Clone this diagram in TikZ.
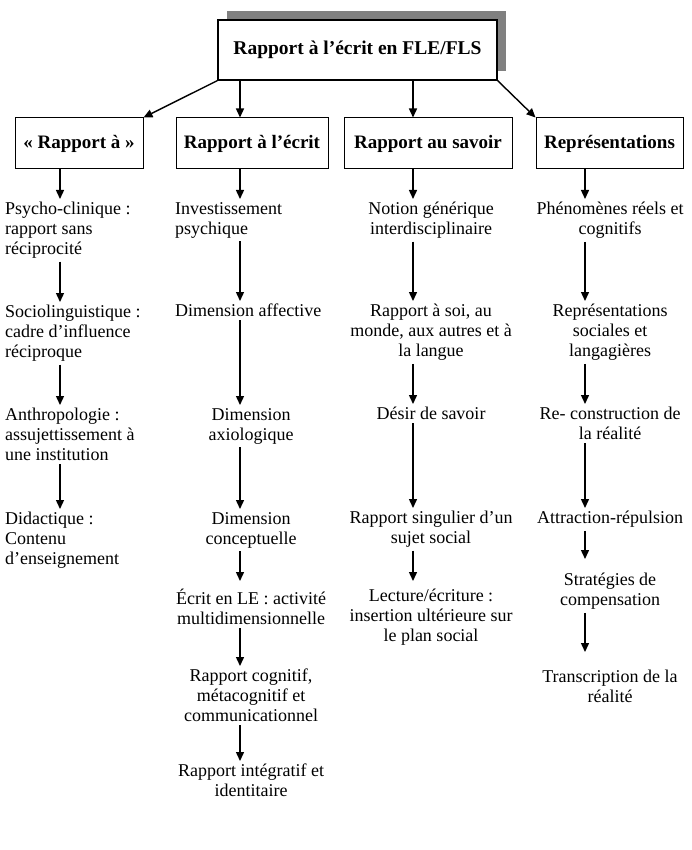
\documentclass[tikz,border=0pt]{standalone}
\usepackage{fontspec}
\setmainfont{Liberation Serif}
\usetikzlibrary{arrows.meta,shadows}

\tikzset{
  titre/.style={draw, line width=1.2pt, fill=white, minimum width=279pt, minimum height=60pt,
    font=\fontsize{19.5}{22}\selectfont\bfseries,
    drop shadow={shadow xshift=9pt, shadow yshift=9pt, fill=black!50, opacity=1}},
  entete/.style={draw, line width=1pt, minimum height=51pt, inner sep=0pt,
    font=\fontsize{19}{22}\selectfont\bfseries},
  texte/.style={inner sep=3pt, anchor=north, font=\fontsize{18}{20}\selectfont},
  fleche/.style={line width=1.4pt, -{Triangle[length=9pt,width=8pt]}},
}

\begin{document}
\begin{tikzpicture}[x=1pt, y=-1pt]
  \useasboundingbox (0,0) rectangle (692,850);

  % titre et en-tetes
  \node[titre] (titre) at (357.5,50) {Rapport à l’écrit en FLE/FLS};

  \node[entete, minimum width=128pt] (rapa) at (79,143.5) {« Rapport à »};
  \node[entete, minimum width=152pt] (rape) at (252,143.5) {Rapport à l’écrit};
  \node[entete, minimum width=168pt] (raps) at (428,143.5) {Rapport au savoir};
  \node[entete, minimum width=147pt] (repr) at (609.5,143.5) {Représentations};

  % axes des colonnes
  \coordinate (c1) at (60,0);
  \coordinate (c2) at (240,0);
  \coordinate (c3) at (413,0);
  \coordinate (c4) at (585,0);

  % colonne 1
  \node[texte, anchor=north west, align=left] (psy) at (2,199) {Psycho-clinique :\\rapport sans\\réciprocité};
  \node[texte, anchor=north west, align=left] (soc) at (2,302) {Sociolinguistique :\\cadre d’influence\\réciproque};
  \node[texte, anchor=north west, align=left] (ant) at (2,405) {Anthropologie :\\assujettissement à\\une institution};
  \node[texte, anchor=north west, align=left] (did) at (2,509) {Didactique :\\Contenu\\d’enseignement};

  % colonne 2
  \node[texte, anchor=north west, align=left] (inv) at (172,199) {Investissement\\psychique};
  \node[texte, anchor=north west, align=left] (aff) at (172,301) {Dimension affective};
  \node[texte, align=center] (axi) at (251,405) {Dimension\\axiologique};
  \node[texte, align=center] (con) at (251,509) {Dimension\\conceptuelle};
  \node[texte, align=center] (ecr) at (251,586) {Écrit en LE : activité\\multidimensionnelle};
  \node[texte, align=center] (cog) at (251,666) {Rapport cognitif,\\métacognitif et\\communicationnel};
  \node[texte, align=center] (int) at (251,761) {Rapport intégratif et\\identitaire};

  % colonne 3
  \node[texte, align=center] (not) at (431,199) {Notion générique\\interdisciplinaire};
  \node[texte, align=center] (soi) at (431,301) {Rapport à soi, au\\monde, aux autres et à\\la langue};
  \node[texte, align=center] (des) at (431,404) {Désir de savoir};
  \node[texte, align=center] (sin) at (431,508) {Rapport singulier d’un\\sujet social};
  \node[texte, align=center] (lec) at (431,586) {Lecture/écriture :\\insertion ultérieure sur\\le plan social};

  % colonne 4
  \node[texte, align=center] (phe) at (610,199) {Phénomènes réels et\\cognitifs};
  \node[texte, align=center] (rso) at (610,301) {Représentations\\sociales et\\langagières};
  \node[texte, align=center] (rec) at (610,404) {Re- construction de\\la réalité};
  \node[texte, align=center] (att) at (610,508) {Attraction-répulsion};
  \node[texte, align=center] (str) at (610,570) {Stratégies de\\compensation};
  \node[texte, align=center] (tra) at (610,667) {Transcription de la\\réalité};

  % fleches du titre
  \draw[fleche] (titre.south west) -- (rapa.north east);
  \draw[fleche] (titre.south -| c2) -- (rape.north -| c2);
  \draw[fleche] (titre.south -| c3) -- (raps.north -| c3);
  \draw[fleche] (titre.south east) -- (repr.north west);

  % fleches des colonnes
  \draw[fleche] (rapa.south -| c1) -- (psy.north -| c1);
  \draw[fleche] (psy.south -| c1) -- (soc.north -| c1);
  \draw[fleche] (soc.south -| c1) -- (ant.north -| c1);
  \draw[fleche] (ant.south -| c1) -- (did.north -| c1);

  \draw[fleche] (rape.south -| c2) -- (inv.north -| c2);
  \draw[fleche] (inv.south -| c2) -- (aff.north -| c2);
  \draw[fleche] (aff.south -| c2) -- (axi.north -| c2);
  \draw[fleche] (axi.south -| c2) -- (con.north -| c2);
  \draw[fleche, shorten >=5pt] (con.south -| c2) -- (ecr.north -| c2);
  \draw[fleche] (ecr.south -| c2) -- (cog.north -| c2);
  \draw[fleche] (cog.south -| c2) -- (int.north -| c2);

  \draw[fleche] (raps.south -| c3) -- (not.north -| c3);
  \draw[fleche] (not.south -| c3) -- (soi.north -| c3);
  \draw[fleche] (soi.south -| c3) -- (des.north -| c3);
  \draw[fleche] (des.south -| c3) -- (sin.north -| c3);
  \draw[fleche, shorten >=5pt] (sin.south -| c3) -- (lec.north -| c3);

  \draw[fleche] (repr.south -| c4) -- (phe.north -| c4);
  \draw[fleche] (phe.south -| c4) -- (rso.north -| c4);
  \draw[fleche] (rso.south -| c4) -- (rec.north -| c4);
  \draw[fleche] (rec.south -| c4) -- (att.north -| c4);
  \draw[fleche, shorten >=11pt] (att.south -| c4) -- (str.north -| c4);
  \draw[fleche, shorten >=15pt] (str.south -| c4) -- (tra.north -| c4);
\end{tikzpicture}
\end{document}
